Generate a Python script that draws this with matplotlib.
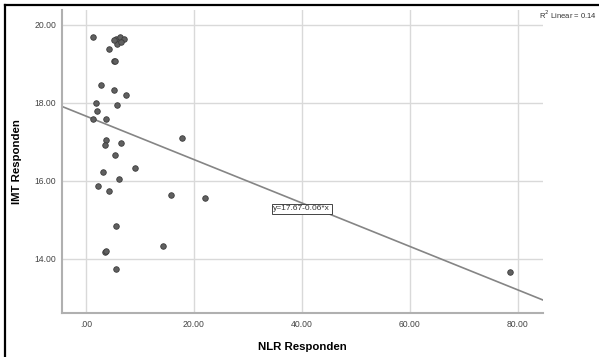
import numpy as np
import matplotlib
matplotlib.use("Agg")
from matplotlib import pyplot as plt
from matplotlib.lines import Line2D

plt.rcParams['font.family'] = ['Liberation Sans', 'DejaVu Sans']

# NLR (x) vs IMT (y)
nlr = [1.35, 5.5, 6.3, 7.0, 5.8, 6.5, 5.2, 4.2, 5.19, 5.3, 2.84, 5.19, 7.35,
       1.8, 5.68, 2.1, 1.35, 3.64, 17.8, 3.7, 3.46, 6.42, 5.37, 9.0, 3.09,
       6.05, 2.22, 4.26, 15.68, 22.0, 5.5, 14.26, 3.58, 3.7, 5.56, 78.6]
imt = [19.68, 19.63, 19.69, 19.63, 19.50, 19.56, 19.62, 19.39, 19.07, 19.07,
       18.47, 18.32, 18.19, 18.0, 17.95, 17.80, 17.58, 17.58, 17.09, 17.06,
       16.93, 16.97, 16.67, 16.33, 16.23, 16.05, 15.87, 15.74, 15.63, 15.57,
       14.84, 14.33, 14.17, 14.19, 13.74, 13.67]

fit_intercept = 17.66
fit_slope = -0.0557
fit_label = "y=17.67-0.06*x"
r2_label = "R$^2$ Linear = 0.14"

xticks = [0, 20, 40, 60, 80]
xticklabels = [".00", "20.00", "40.00", "60.00", "80.00"]
yticks = [14, 16, 18, 20]
yticklabels = ["14.00", "16.00", "18.00", "20.00"]

fig = plt.figure(figsize=(5.99, 3.57), dpi=100)
ax = fig.add_axes([62 / 599, 1 - 312.7 / 357, (542.7 - 62) / 599, (312.7 - 10) / 357])

ax.set_xlim(-4.44, 84.6)
ax.set_ylim(12.62, 20.38)

ax.grid(True, color="#d9d9d9", linewidth=1.0, zorder=0)
ax.set_axisbelow(True)

xs = np.array([-4.44, 84.6])
ax.plot(xs, fit_intercept + fit_slope * xs, color="#858585", linewidth=1.2, zorder=2)

ax.scatter(nlr, imt, s=16, color="#606060", edgecolor="#3c3c3c", linewidth=0.6, zorder=3)

ax.text(40.0, 15.28, fit_label, fontsize=6, ha="center", va="center", color="#333333",
        bbox=dict(boxstyle="square,pad=0.2", facecolor="white", edgecolor="#444444", linewidth=0.7),
        zorder=4)

ax.set_xticks(xticks)
ax.set_xticklabels(xticklabels)
ax.set_yticks(yticks)
ax.set_yticklabels(yticklabels)
ax.tick_params(length=0, labelsize=6.2, labelcolor="#444444")
ax.tick_params(axis="x", pad=5)
ax.tick_params(axis="y", pad=4)

for side in ["top", "right"]:
    ax.spines[side].set_visible(False)
for side in ["left", "bottom"]:
    ax.spines[side].set_color("#b0b0b0")
    ax.spines[side].set_linewidth(1.5)

ax.set_xlabel("NLR Responden", fontsize=8.2, fontweight="bold")
ax.set_ylabel("IMT Responden", fontsize=8.2, fontweight="bold")
ax.xaxis.set_label_coords(0.5, (312.7 - 342) / 302.7)
ax.yaxis.set_label_coords((22 - 62) / 480.7, 0.5)

fig.text(596.5 / 599, 1 - 15 / 357, r2_label, fontsize=5.5, ha="right", va="center", color="#333333")

# outer frame on the left and top, as in the original export
fig.add_artist(Line2D([5 / 599, 5 / 599], [0, 1 - 5 / 357], color="black", linewidth=1.6,
                      transform=fig.transFigure))
fig.add_artist(Line2D([5 / 599, 1], [1 - 5 / 357, 1 - 5 / 357], color="black", linewidth=1.6,
                      transform=fig.transFigure))

fig.savefig("out.png", dpi=100)
